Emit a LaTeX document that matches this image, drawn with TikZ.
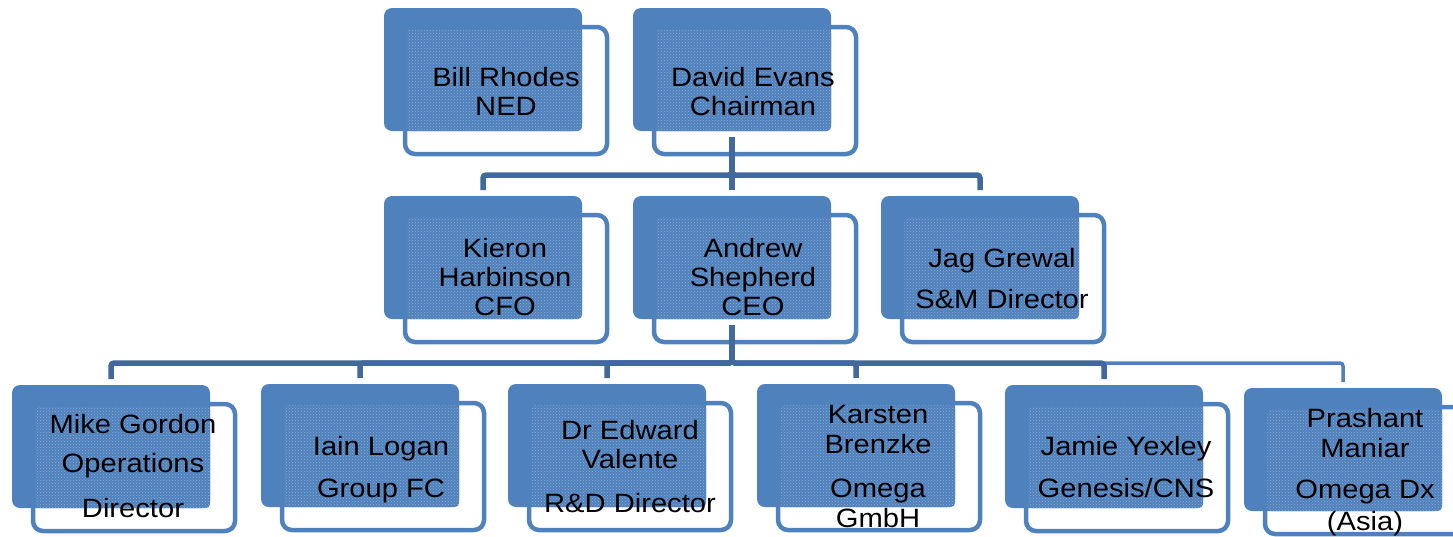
\documentclass[tikz,border=0pt]{standalone}
\usepackage{fontspec}
\setmainfont[FakeStretch=1.1]{Liberation Sans}
\usetikzlibrary{calc,patterns}
\definecolor{boxblue}{HTML}{4F81BD}
\definecolor{linkblue}{HTML}{41699D}
\begin{document}
\begin{tikzpicture}
  [x=1pt, y=-1pt,
   cardback/.style={fill=boxblue, rounded corners=8pt, minimum width=198pt, minimum height=123pt, inner sep=0pt, outer sep=0pt},
   cardframe/.style={draw=boxblue, line width=4.5pt, rounded corners=10pt, minimum width=202pt, minimum height=127pt, inner sep=0pt, outer sep=0pt},
   cardshade/.style={preaction={fill=boxblue}, pattern=crosshatch dots, pattern color=boxblue!65!white, rounded corners=4pt},
   cardtext/.style={anchor=base, align=center, font=\fontsize{26.5}{29}\selectfont},
   link/.style={draw=linkblue, line width=5.5pt, rounded corners=3pt, shorten <=6pt, shorten >=6pt}]
  \useasboundingbox (0,0) rectangle (1453,536);
  % cards
  \foreach \n/\x/\y in {bill/384/8, david/633/8, kieron/384/196, andrew/633/196, jag/881/196,
      mike/12/385, iain/261/384, edward/508/384, karsten/757/384, jamie/1005/385, prashant/1244/388}{
    \node[cardback] (\n) at (\x+99,\y+61.5) {};
    \node[cardframe] (\n-f) at ($(\n)+(23,21)$) {};
    \path[cardshade] (\n-f.north west) ++(2.25,2.25) rectangle (\n.south east);
  }
  % links
  \draw[link, draw=boxblue, line width=3.5pt] (andrew.south) -- ++(0,44) -| (prashant.north);
  \foreach \c in {kieron, andrew, jag}
    \draw[link] (david.south) -- ++(0,44) -| (\c.north);
  \foreach \c in {mike, iain, edward, karsten, jamie}
    \draw[link] (andrew.south) -- ++(0,44) -| (\c.north);
  % names (placed at the last baseline)
  \node[cardtext] (bill-t) at (506,115) {Bill Rhodes\\NED};
  \node[cardtext] (david-t) at (753,115) {David Evans\\Chairman};
  \node[cardtext] (kieron-t) at (505,315) {Kieron\\Harbinson\\CFO};
  \node[cardtext] (andrew-t) at (753,315) {Andrew\\Shepherd\\CEO};
  \node[cardtext] (jag-t) at (1002,308) {Jag Grewal\\[12pt]S\&M Director};
  \node[cardtext] (mike-t) at (133,517) {Mike Gordon\\[10pt]Operations\\[16pt]Director};
  \node[cardtext] (iain-t) at (381,497) {Iain Logan\\[13pt]Group FC};
  \node[cardtext] (edward-t) at (630,512) {Dr Edward\\Valente\\[15pt]R\&D Director};
  \node[cardtext] (karsten-t) at (878,527) {Karsten\\[1pt]Brenzke\\[15pt]Omega\\[1pt]GmbH};
  \node[cardtext] (jamie-t) at (1126,497) {Jamie Yexley\\[13pt]Genesis/CNS};
  \node[cardtext] (prashant-t) at (1365,530) {Prashant\\[1pt]Maniar\\[12pt]Omega Dx\\[3pt](Asia)};
\end{tikzpicture}
\end{document}
